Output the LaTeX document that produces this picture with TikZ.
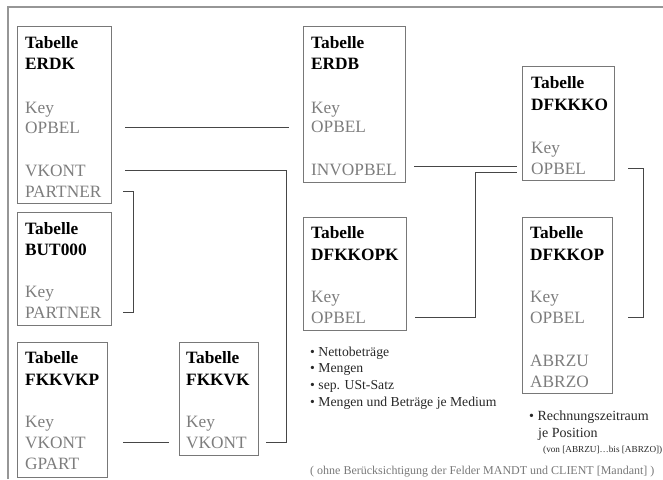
\documentclass[tikz,border=0pt]{standalone}
\usepackage{fontspec}
\setmainfont{Liberation Serif}

\definecolor{framegray}{RGB}{150,150,150}
\definecolor{boxgray}{RGB}{120,120,120}
\definecolor{fieldgray}{RGB}{125,125,125}
\definecolor{conngray}{RGB}{70,70,70}
\definecolor{notegray}{RGB}{40,40,40}

\begin{document}
\begin{tikzpicture}[x=1pt,y=-1pt,
	tablebox/.style={draw=boxgray,line width=1.2pt,anchor=north west,inner sep=0pt},
	tabtitle/.style={anchor=base west,inner sep=0pt,font=\fontsize{17.3}{21}\selectfont\bfseries},
	tabfield/.style={anchor=base west,inner sep=0pt,text=fieldgray,font=\fontsize{17.3}{21}\selectfont},
	tabnote/.style={anchor=base west,inner sep=0pt,text=notegray,font=\fontsize{13.7}{17}\selectfont},
	conn/.style={draw=conngray,line width=0.9pt}]

	\useasboundingbox (0,0) rectangle (663,479);

	\draw [framegray, line width=2pt] (8,479) -- (8,7) -- (663,7);

	\node [tablebox, minimum width=94pt, minimum height=177pt] (erdk) at (17,26) {};
	\node [tablebox, minimum width=94pt, minimum height=113pt] (but) at (17,212) {};
	\node [tablebox, minimum width=90pt, minimum height=135pt] (fkkvkp) at (17,342) {};
	\node [tablebox, minimum width=79pt, minimum height=113pt] (fkkvk) at (179,342) {};
	\node [tablebox, minimum width=102pt, minimum height=156pt] (erdb) at (303,26) {};
	\node [tablebox, minimum width=92pt, minimum height=114pt] (dfkkko) at (522,66) {};
	\node [tablebox, minimum width=103pt, minimum height=113pt] (dfkkopk) at (303,217) {};
	\node [tablebox, minimum width=90pt, minimum height=176pt] (dfkkop) at (522,217) {};

	\foreach \t/\y in {Tabelle/48, ERDK/69}
		\node [tabtitle] (erdk-\t) at (25,\y) {\t};
	\foreach \t/\y in {Key/113, OPBEL/133, VKONT/176, PARTNER/197}
		\node [tabfield] (erdk-\t) at (25,\y) {\t};

	\foreach \t/\y in {Tabelle/234, BUT000/255}
		\node [tabtitle] (but-\t) at (25,\y) {\t};
	\foreach \t/\y in {Key/297, PARTNER/318}
		\node [tabfield] (but-\t) at (25,\y) {\t};

	\foreach \t/\y in {Tabelle/363, FKKVKP/385}
		\node [tabtitle] (fkkvkp-\t) at (25,\y) {\t};
	\foreach \t/\y in {Key/427, VKONT/448, GPART/469}
		\node [tabfield] (fkkvkp-\t) at (25,\y) {\t};

	\foreach \t/\y in {Tabelle/363, FKKVK/385}
		\node [tabtitle] (fkkvk-\t) at (186,\y) {\t};
	\foreach \t/\y in {Key/427, VKONT/448}
		\node [tabfield] (fkkvk-\t) at (186,\y) {\t};

	\foreach \t/\y in {Tabelle/48, ERDB/69}
		\node [tabtitle] (erdb-\t) at (311,\y) {\t};
	\foreach \t/\y in {Key/113, OPBEL/132, INVOPBEL/175}
		\node [tabfield] (erdb-\t) at (311,\y) {\t};

	\foreach \t/\y in {Tabelle/88, DFKKKO/110}
		\node [tabtitle] (dfkkko-\t) at (531,\y) {\t};
	\foreach \t/\y in {Key/153, OPBEL/174}
		\node [tabfield] (dfkkko-\t) at (531,\y) {\t};

	\foreach \t/\y in {Tabelle/238, DFKKOPK/260}
		\node [tabtitle] (dfkkopk-\t) at (311,\y) {\t};
	\foreach \t/\y in {Key/302, OPBEL/323}
		\node [tabfield] (dfkkopk-\t) at (311,\y) {\t};

	\foreach \t/\y in {Tabelle/238, DFKKOP/260}
		\node [tabtitle] (dfkkop-\t) at (530,\y) {\t};
	\foreach \t/\y in {Key/302, OPBEL/323, ABRZU/366, ABRZO/387}
		\node [tabfield] (dfkkop-\t) at (530,\y) {\t};

	\node [tabnote] (note1) at (310,356) {• Nettobeträge};
	\node [tabnote] (note2) at (310,372) {• Mengen};
	\node [tabnote] (note3) at (310,389) {• sep. USt-Satz};
	\node [tabnote] (note4) at (310,406) {• Mengen und Beträge je Medium};

	\node [tabnote, font=\fontsize{14}{17}\selectfont] (period1) at (529,420) {• Rechnungszeitraum};
	\node [tabnote, font=\fontsize{14}{17}\selectfont] (period2) at (538,437) {je Position};
	\node [tabnote, font=\fontsize{9.2}{10}\selectfont] (period3) at (543,452) {(von [ABRZU]…bis [ABRZO])};

	\node [tabnote, text=boxgray, font=\fontsize{12}{14}\selectfont] (remark) at (310,474) {( ohne Berücksichtigung der Felder MANDT und CLIENT [Mandant] )};

	\draw [conn] ([xshift=13pt]erdk.east |- erdk-OPBEL) -- ([xshift=-14pt]erdb.west |- erdk-OPBEL);

	\draw [conn] ([xshift=13pt]erdk.east |- erdk-VKONT) -| ([xshift=27pt]fkkvk.east |- fkkvk-VKONT) -- ([xshift=7pt]fkkvk.east |- fkkvk-VKONT);

	\draw [conn] ([xshift=11pt]erdk.east |- erdk-PARTNER) -| ([xshift=21pt]but.east |- but-PARTNER) -- ([xshift=11pt]but.east |- but-PARTNER);

	\draw [conn] ([xshift=15pt]fkkvkp.east |- fkkvkp-VKONT) -- ([xshift=-10pt]fkkvk.west |- fkkvkp-VKONT);

	\draw [conn] ([xshift=8pt,yshift=3pt]erdb.east |- erdb-INVOPBEL) -- ([xshift=-5pt,yshift=3pt]dfkkko.west |- erdb-INVOPBEL);

	\draw [conn] ([xshift=8pt]dfkkopk.east |- dfkkopk-OPBEL) -| ([xshift=-47pt,yshift=-4pt]dfkkko.west |- dfkkko-OPBEL) -- ([xshift=-5pt,yshift=-4pt]dfkkko.west |- dfkkko-OPBEL);

	\draw [conn] ([xshift=13pt]dfkkko.east |- dfkkko-OPBEL) -| ([xshift=28pt]dfkkko.east |- dfkkop-OPBEL) -- ([xshift=15pt]dfkkop.east |- dfkkop-OPBEL);
\end{tikzpicture}
\end{document}
